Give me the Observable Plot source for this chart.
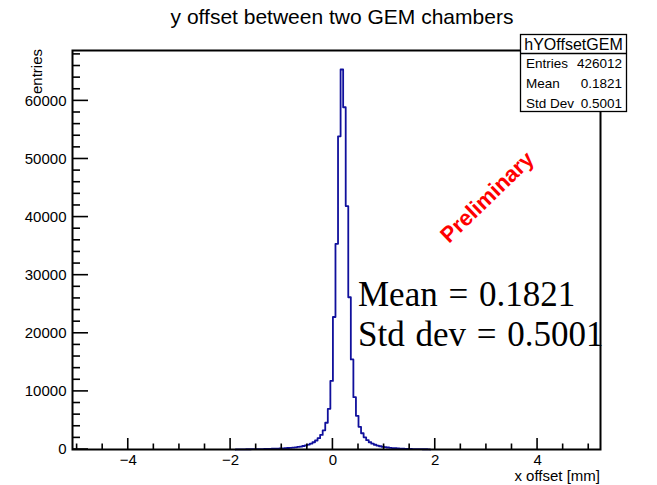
<!DOCTYPE html>
<html><head><meta charset="utf-8">
<script src="https://cdn.jsdelivr.net/npm/d3@7"></script>
<script src="https://cdn.jsdelivr.net/npm/@observablehq/plot@0.6"></script>
<style>body{margin:0;background:#fff} svg{display:block}</style>
</head><body><div id="chart"></div>
<script>
// ---- data ----
const binWidth = 0.05;
const binLow = [-1.90,-1.85,-1.80,-1.75,-1.70,-1.65,-1.60,-1.55,-1.50,-1.45,-1.40,-1.35,-1.30,-1.25,-1.20,-1.15,-1.10,-1.05,-1.00,-0.95,-0.90,-0.85,-0.80,-0.75,-0.70,-0.65,-0.60,-0.55,-0.50,-0.45,-0.40,-0.35,-0.30,-0.25,-0.20,-0.15,-0.10,-0.05,0.00,0.05,0.10,0.15,0.20,0.25,0.30,0.35,0.40,0.45,0.50,0.55,0.60,0.65,0.70,0.75,0.80,0.85,0.90,0.95,1.00,1.05,1.10,1.15,1.20,1.25,1.30,1.35,1.40,1.45,1.50,1.55,1.60,1.65,1.70,1.75,1.80,1.85];
const counts = [25,28,32,35,40,45,50,55,62,70,78,88,98,110,125,140,158,178,200,225,255,290,330,380,440,510,600,710,850,1020,1250,1550,1950,2500,3300,4600,7000,11800,22800,35400,53900,65400,58900,41900,26200,15500,9000,5800,3900,2800,2100,1600,1250,1000,820,680,560,470,400,340,290,250,215,185,160,140,120,105,90,80,70,60,52,45,40,35];
const xDomain = [-5.09, 5.23];
const yDomain = [0, 68670];
const xMajorTicks = [-4, -2, 0, 2, 4];
const xMinorTicks = [-5, -4.5, -3.5, -3, -2.5, -1.5, -1, -0.5, 0.5, 1, 1.5, 2.5, 3, 3.5, 4.5, 5];
const yMajorTicks = [0, 10000, 20000, 30000, 40000, 50000, 60000];
const yMinorTicks = [2000,4000,6000,8000,12000,14000,16000,18000,22000,24000,26000,28000,32000,34000,36000,38000,42000,44000,46000,48000,52000,54000,56000,58000,62000,64000,66000,68000];
const title = "y offset between two GEM chambers";
const xLabel = "x offset [mm]";
const yLabel = "entries";
const statsName = "hYOffsetGEM";
const statsLabels = ["Entries", "Mean", "Std Dev"];
const statsValues = ["426012", "0.1821", "0.5001"];
const noteLines = ["Mean = 0.1821", "Std dev = 0.5001"];
const watermark = "Preliminary";

// ---- build step outline ----
const pts = [{x: binLow[0], y: 0}];
binLow.forEach((b, i) => pts.push({x: b, y: counts[i]}));
pts.push({x: binLow[binLow.length - 1] + binWidth, y: counts[counts.length - 1]});
pts.push({x: binLow[binLow.length - 1] + binWidth, y: 0});

const fmtX = d => d < 0 ? "\u2212" + (-d) : String(d);

const plot = Plot.plot({
  width: 657, height: 485,
  marginLeft: 72, marginRight: 57, marginTop: 50, marginBottom: 36,
  style: {fontFamily: "'Liberation Sans', Arial, sans-serif", fontSize: "15px", background: "#fff", color: "#000"},
  x: {domain: xDomain},
  y: {domain: yDomain},
  marks: [
    Plot.line(pts, {x: "x", y: "y", curve: "step-after", stroke: "#10109c", strokeWidth: 1.8}),
    Plot.frame({stroke: "#000", strokeWidth: 2}),
    Plot.axisX(xMajorTicks, {tickSize: 0, tickPadding: 5, tickFormat: fmtX, fontSize: 15, label: null}),
    Plot.axisY(yMajorTicks, {tickSize: 0, tickPadding: 6, tickFormat: d => String(d), fontSize: 15, label: null})
  ]
});
document.getElementById("chart").appendChild(plot);

const sx = plot.scale("x"), sy = plot.scale("y");
const svg = d3.select(plot);
const y0 = sy.apply(0), xL = sx.apply(xDomain[0]);
const g = svg.append("g").attr("stroke", "#000").attr("stroke-width", 1.6);
xMajorTicks.forEach(t => g.append("line").attr("x1", sx.apply(t)).attr("x2", sx.apply(t)).attr("y1", y0).attr("y2", y0 - 11));
xMinorTicks.forEach(t => g.append("line").attr("x1", sx.apply(t)).attr("x2", sx.apply(t)).attr("y1", y0).attr("y2", y0 - 5.5));
yMajorTicks.forEach(t => g.append("line").attr("y1", sy.apply(t)).attr("y2", sy.apply(t)).attr("x1", xL).attr("x2", xL + 16));
yMinorTicks.forEach(t => g.append("line").attr("y1", sy.apply(t)).attr("y2", sy.apply(t)).attr("x1", xL).attr("x2", xL + 8));

const sans = "'Liberation Sans', Arial, sans-serif";
svg.append("text").attr("x", 342).attr("y", 24).attr("text-anchor", "middle")
  .attr("font-family", sans).attr("font-size", 21).text(title);
svg.append("text").attr("x", 600).attr("y", 481).attr("text-anchor", "end")
  .attr("font-family", sans).attr("font-size", 15).text(xLabel);
svg.append("text").attr("transform", "translate(42,49) rotate(-90)").attr("text-anchor", "end")
  .attr("font-family", sans).attr("font-size", 15).text(yLabel);

// stats box
const box = svg.append("g");
box.append("rect").attr("x", 520.5).attr("y", 34.5).attr("width", 106).attr("height", 77)
  .attr("fill", "#fff").attr("stroke", "#000").attr("stroke-width", 1.3);
box.append("line").attr("x1", 520.5).attr("x2", 626.5).attr("y1", 53.5).attr("y2", 53.5).attr("stroke", "#000").attr("stroke-width", 1.3);
box.append("text").attr("x", 573.5).attr("y", 49.5).attr("text-anchor", "middle")
  .attr("font-family", sans).attr("font-size", 16).text(statsName);
const rowY = [67.5, 88, 108];
statsLabels.forEach((l, i) => {
  box.append("text").attr("x", 526).attr("y", rowY[i]).attr("text-anchor", "start").attr("font-family", sans).attr("font-size", 13.5).text(l);
  box.append("text").attr("x", 622).attr("y", rowY[i]).attr("text-anchor", "end").attr("font-family", sans).attr("font-size", 13.5).text(statsValues[i]);
});

// annotations
const serif = "'Liberation Serif', 'Times New Roman', serif";
const noteY = [306, 346];
noteLines.forEach((t, i) => svg.append("text").attr("x", 358).attr("y", noteY[i]).attr("text-anchor", "start")
  .attr("font-family", serif).attr("font-size", 35).attr("word-spacing", 2).text(t));
svg.append("text").attr("transform", "translate(487,197) rotate(-44)").attr("text-anchor", "middle")
  .attr("dominant-baseline", "central")
  .attr("font-family", sans).attr("font-weight", "bold").attr("font-size", 22).attr("fill", "#ff0000").text(watermark);
</script></body></html>
